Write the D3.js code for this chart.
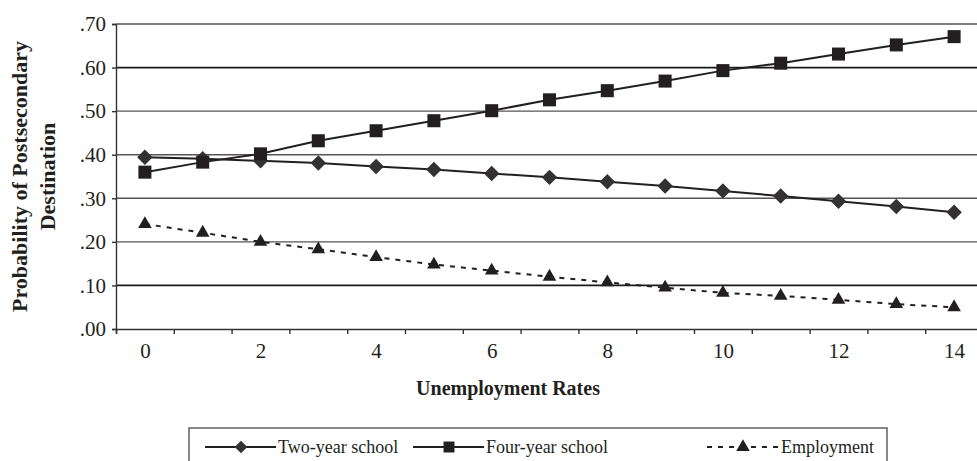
<!DOCTYPE html>
<html>
<head>
<meta charset="utf-8">
<script src="https://cdn.jsdelivr.net/npm/d3@7"></script>
<style>
  body { margin: 0; background: #fff; }
</style>
</head>
<body>
<svg id="chart" width="977" height="461"></svg>
<script>
// unemployment rate categories
const rates = d3.range(0, 15);
const xLabels = [0, 2, 4, 6, 8, 10, 12, 14];
const yTicks = [0, 0.1, 0.2, 0.3, 0.4, 0.5, 0.6, 0.7];

const twoYear  = [.394, .391, .386, .381, .373, .366, .357, .348, .338, .328, .317, .305, .293, .281, .268];
const fourYear = [.360, .383, .402, .432, .455, .478, .501, .526, .547, .569, .593, .610, .631, .652, .671];
const employ   = [.241, .221, .200, .183, .165, .148, .134, .120, .107, .095, .083, .076, .067, .057, .050];

const seriesNames = ['Two-year school', 'Four-year school', 'Employment'];

const FONT = '"Liberation Serif", "Times New Roman", serif';

let svg = d3.select('#chart');

let mLeft = 116, mRight = 983, mTop = 24, mBottom = 329;

let x = d3.scaleLinear().domain([-0.5, 14.5]).range([mLeft, mRight]);
let y = d3.scaleLinear().domain([0, 0.7]).range([mBottom, mTop]);

let fmt = v => d3.format('.2f')(v).replace(/^0/, '');
let isDark = d => Math.abs(d - 0.6) < 1e-6 || Math.abs(d - 0.1) < 1e-6;

// gridlines
svg.append('g')
   .selectAll('line')
   .data(yTicks.filter(v => v > 0))
   .enter().append('line')
   .attr('x1', mLeft).attr('x2', mRight)
   .attr('y1', d => y(d)).attr('y2', d => y(d))
   .attr('stroke', d => isDark(d) ? '#1a1a1a' : '#555')
   .attr('stroke-width', d => isDark(d) ? 1.8 : 1.4);

// y axis
let yAxis = svg.append('g')
   .attr('transform', `translate(${mLeft},0)`)
   .call(d3.axisLeft(y).tickValues(yTicks).tickSize(4).tickPadding(6).tickFormat(fmt));
yAxis.attr('font-family', FONT);
yAxis.select('.domain').attr('stroke', '#333').attr('stroke-width', 1.4);
yAxis.selectAll('.tick line').attr('stroke', '#333').attr('stroke-width', 1.4);
yAxis.selectAll('text').style('font-family', FONT).style('font-size', '21px').attr('fill', '#231f20');

// x axis: tick marks between categories
let xAxis = svg.append('g')
   .attr('transform', `translate(0,${mBottom})`)
   .call(d3.axisBottom(x).tickValues(d3.range(-0.5, 15, 1)).tickSize(5).tickFormat(''));
xAxis.select('.domain').attr('stroke', '#333').attr('stroke-width', 1.4);
xAxis.selectAll('.tick line').attr('stroke', '#333').attr('stroke-width', 1.4);

let xLab = svg.append('g')
   .attr('transform', `translate(0,${mBottom})`)
   .call(d3.axisBottom(x).tickValues(xLabels).tickSize(0).tickPadding(14).tickFormat(d3.format('d')));
xLab.attr('font-family', FONT);
xLab.select('.domain').remove();
xLab.selectAll('text').style('font-family', FONT).style('font-size', '21px').attr('fill', '#231f20');

// axis titles
svg.append('text')
   .attr('x', 508).attr('y', 395)
   .attr('text-anchor', 'middle')
   .style('font-family', FONT)
   .style('font-size', '20px').style('font-weight', 'bold')
   .attr('fill', '#231f20')
   .text('Unemployment Rates');

let yt = svg.append('text')
   .attr('transform', `translate(0,${(mTop + mBottom) / 2}) rotate(-90)`)
   .attr('text-anchor', 'middle')
   .style('font-family', FONT)
   .style('font-size', '22px').style('font-weight', 'bold')
   .attr('fill', '#231f20');
yt.append('tspan').attr('x', 0).attr('y', 27).text('Probability of Postsecondary');
yt.append('tspan').attr('x', 0).attr('y', 55).text('Destination');

// lines
let line = d3.line().x((d, i) => x(rates[i])).y(d => y(d));

svg.append('path').datum(twoYear).attr('d', line)
   .attr('fill', 'none').attr('stroke', '#231f20').attr('stroke-width', 2);
svg.append('path').datum(fourYear).attr('d', line)
   .attr('fill', 'none').attr('stroke', '#231f20').attr('stroke-width', 2);
svg.append('path').datum(employ).attr('d', line)
   .attr('fill', 'none').attr('stroke', '#231f20').attr('stroke-width', 2)
   .attr('stroke-dasharray', '5,6');

// markers
let diamond = d3.symbol().type(d3.symbolSquare).size(120)();
let square = d3.symbol().type(d3.symbolSquare).size(170)();
let triangle = d3.symbol().type(d3.symbolTriangle).size(80)();

let drawMarkers = (data, sym, rot, color) => {
    svg.append('g').selectAll('path')
       .data(data)
       .enter().append('path')
       .attr('d', sym)
       .attr('transform', (d, i) => `translate(${x(rates[i])},${y(d)}) rotate(${rot})`)
       .attr('fill', color);
};
drawMarkers(twoYear, diamond, 45, '#333132');
drawMarkers(fourYear, square, 0, '#231f20');
drawMarkers(employ, triangle, 0, '#231f20');

// legend
let lg = svg.append('g');
lg.append('rect')
  .attr('x', 189).attr('y', 428).attr('width', 698).attr('height', 40)
  .attr('fill', 'none').attr('stroke', '#555').attr('stroke-width', 1.4);

let legendItems = [
    {name: seriesNames[0], x0: 205, type: d3.symbolSquare, size: 80, rot: 45, dash: null, color: '#333132', tx: 278},
    {name: seriesNames[1], x0: 413, type: d3.symbolSquare, size: 120, rot: 0, dash: null, color: '#231f20', tx: 486},
    {name: seriesNames[2], x0: 707, type: d3.symbolTriangle, size: 80, rot: 0, dash: '5,6', color: '#231f20', tx: 781}
];
let ly = 447;
legendItems.forEach(it => {
    lg.append('line')
      .attr('x1', it.x0).attr('x2', it.x0 + 71).attr('y1', ly).attr('y2', ly)
      .attr('stroke', '#231f20').attr('stroke-width', 2)
      .attr('stroke-dasharray', it.dash);
    lg.append('path')
      .attr('d', d3.symbol().type(it.type).size(it.size)())
      .attr('transform', `translate(${it.x0 + 36},${ly}) rotate(${it.rot})`)
      .attr('fill', it.color);
    lg.append('text')
      .attr('x', it.tx).attr('y', ly + 6)
      .style('font-family', FONT)
      .style('font-size', '18px')
      .attr('fill', '#231f20')
      .text(it.name);
});
</script>
</body>
</html>
